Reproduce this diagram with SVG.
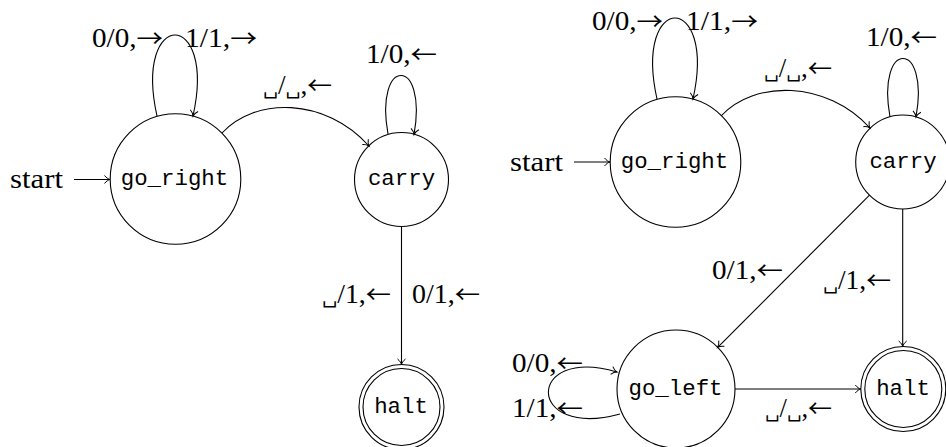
<svg xmlns="http://www.w3.org/2000/svg" width="946" height="447" viewBox="0 0 946 447">
<style>
.n{fill:none;stroke:#000;stroke-width:1.1}
.e{fill:none;stroke:#000;stroke-width:1.1;marker-end:url(#arr)}
.l{font-family:"Liberation Serif","DejaVu Serif",serif;font-size:26.5px;fill:#000}
.a{font-family:"Noto Sans CJK SC","DejaVu Sans",sans-serif;font-size:24px}
.b{font-family:"DejaVu Serif","DejaVu Sans",serif;font-size:19px}
.s{font-family:"Liberation Mono",monospace;font-size:22.4px;text-anchor:middle;fill:#000}
</style>
<defs>
<marker id="arr" markerUnits="userSpaceOnUse" markerWidth="12" markerHeight="12" viewBox="-7 -6 8 12" refX="0" refY="0" orient="auto">
<path d="M-5.5,-4 C-3.5,-1.5 -1.5,-0.4 0,0 C-1.5,0.4 -3.5,1.5 -5.5,4" fill="none" stroke="#000" stroke-width="1"/>
</marker>
</defs>
<rect width="946" height="447" fill="#fff"/>

<g id="L-go_right"><circle class="n" cx="175.5" cy="179" r="65.3"/><text class="s" x="174.5" y="185">go_right</text></g>
<g id="L-carry"><circle class="n" cx="401.5" cy="179.5" r="47"/><text class="s" x="401.5" y="185">carry</text></g>
<g id="L-halt"><circle class="n" cx="401.5" cy="407" r="42.5"/><circle class="n" cx="401.5" cy="407" r="38.5"/><text class="s" x="401" y="413">halt</text></g>

<g id="R-go_right"><circle class="n" cx="675.5" cy="162" r="65.3"/><text class="s" x="674.5" y="168">go_right</text></g>
<g id="R-carry"><circle class="n" cx="902.7" cy="162" r="47"/><text class="s" x="903" y="168">carry</text></g>
<g id="R-go_left"><circle class="n" cx="676" cy="389" r="59"/><text class="s" x="675.5" y="395">go_left</text></g>
<g id="R-halt"><circle class="n" cx="903.3" cy="389" r="42.5"/><circle class="n" cx="903.3" cy="389" r="38.5"/><text class="s" x="903" y="395">halt</text></g>

<g id="connectors">
<!-- left diagram -->
<path class="e" d="M74,179.5 H110"/>
<text class="l" x="10" y="188" textLength="53" lengthAdjust="spacingAndGlyphs">start</text>
<path class="e" d="M157,116 C133,8 217,8 193,116"/>
<text class="l" x="92" y="46.5" textLength="71" lengthAdjust="spacingAndGlyphs">0/0,<tspan class="a">→</tspan></text>
<text class="l" x="185" y="46.5" textLength="72" lengthAdjust="spacingAndGlyphs">1/1,<tspan class="a">→</tspan></text>
<path class="e" d="M222,133 C255,97 325,97 369,146"/>
<text class="l" x="263" y="94" textLength="69" lengthAdjust="spacingAndGlyphs"><tspan class="b">␣</tspan>/<tspan class="b">␣</tspan>,<tspan class="a">←</tspan></text>
<path class="e" d="M388,134 C374,56 428,56 414,134.5"/>
<text class="l" x="366" y="62.5" textLength="71" lengthAdjust="spacingAndGlyphs">1/0,<tspan class="a">←</tspan></text>
<path class="e" d="M401.5,226.5 V364.5"/>
<text class="l" x="322" y="302.7" textLength="69" lengthAdjust="spacingAndGlyphs"><tspan class="b">␣</tspan>/1,<tspan class="a">←</tspan></text>
<text class="l" x="412" y="302.7" textLength="68" lengthAdjust="spacingAndGlyphs">0/1,<tspan class="a">←</tspan></text>

<!-- right diagram -->
<path class="e" d="M574,162 H610"/>
<text class="l" x="510" y="170.5" textLength="53" lengthAdjust="spacingAndGlyphs">start</text>
<path class="e" d="M657,99 C633,-9 717,-9 693,99"/>
<text class="l" x="592" y="29.5" textLength="71" lengthAdjust="spacingAndGlyphs">0/0,<tspan class="a">→</tspan></text>
<text class="l" x="686" y="29.5" textLength="72" lengthAdjust="spacingAndGlyphs">1/1,<tspan class="a">→</tspan></text>
<path class="e" d="M721,116 C754,80 826,80 870,128"/>
<text class="l" x="764" y="77" textLength="68" lengthAdjust="spacingAndGlyphs"><tspan class="b">␣</tspan>/<tspan class="b">␣</tspan>,<tspan class="a">←</tspan></text>
<path class="e" d="M890,117 C876,39 930,39 916,117"/>
<text class="l" x="866" y="46" textLength="71" lengthAdjust="spacingAndGlyphs">1/0,<tspan class="a">←</tspan></text>
<path class="e" d="M869.5,195.2 L717.7,347.3"/>
<text class="l" x="712" y="279" textLength="71" lengthAdjust="spacingAndGlyphs">0/1,<tspan class="a">←</tspan></text>
<path class="e" d="M902.7,209 V346.5"/>
<text class="l" x="823" y="289" textLength="68" lengthAdjust="spacingAndGlyphs"><tspan class="b">␣</tspan>/1,<tspan class="a">←</tspan></text>
<path class="e" d="M735,389 H860.8"/>
<text class="l" x="765" y="417" textLength="67" lengthAdjust="spacingAndGlyphs"><tspan class="b">␣</tspan>/<tspan class="b">␣</tspan>,<tspan class="a">←</tspan></text>
<path class="e" d="M620,414 C525,440 525,345 617,372"/>
<text class="l" x="512" y="372" textLength="71" lengthAdjust="spacingAndGlyphs">0/0,<tspan class="a">←</tspan></text>
<text class="l" x="512" y="417.3" textLength="71" lengthAdjust="spacingAndGlyphs">1/1,<tspan class="a">←</tspan></text>
</g>
</svg>
